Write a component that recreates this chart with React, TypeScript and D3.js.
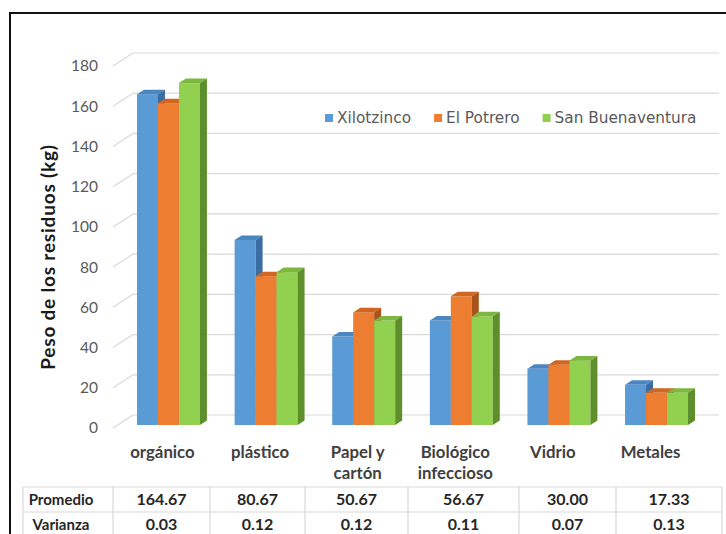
import { useEffect, useRef } from 'react';
import * as d3 from 'd3';

const categories = ['orgánico', 'plástico', 'Papel y cartón', 'Biológico infeccioso', 'Vidrio', 'Metales'];
const categoryLines = [['orgánico'], ['plástico'], ['Papel y', 'cartón'], ['Biológico', 'infeccioso'], ['Vidrio'], ['Metales']];
const seriesNames = ['Xilotzinco', 'El Potrero', 'San Buenaventura'];
const xilotzinco = [164.5, 92, 44, 52, 28, 20];
const elPotrero = [160, 74, 56, 64, 30, 16];
const sanBuenaventura = [170, 76, 52, 54, 32, 16];
const yTicks = [0, 20, 40, 60, 80, 100, 120, 140, 160, 180];
const promedio = ['164.67', '80.67', '50.67', '56.67', '30.00', '17.33'];
const varianza = ['0.03', '0.12', '0.12', '0.11', '0.07', '0.13'];
const rowLabels = ['Promedio', 'Varianza'];

const seriesValues = [xilotzinco, elPotrero, sanBuenaventura];
const faceColors = ['#5b9bd5', '#ed7d31', '#92d050'];
const topColors = ['#4a86c2', '#d0661f', '#7cb83f'];
const sideColors = ['#3a6ea3', '#a9531a', '#5e8f2c'];

const FONT = 'Lato, "Open Sans", sans-serif';

const App = () => {
  const svgRef = useRef<SVGSVGElement>(null);

  useEffect(() => {
    if (!svgRef.current) return;
    const svg = d3.select(svgRef.current);
    svg.selectAll('*').remove();

    // 3D projection: depth 0 = front edge of floor, 1 = back wall
    const depthX = 20;
    const depthY = 13;
    const floorFrontY = 428;
    const wallLeft = 113;
    const wallRight = 699;
    const barDepth0 = 0.23;
    const barDepth1 = 0.58;

    const yScale = d3.scaleLinear().domain([0, 180]).range([0, 362]);
    const py = (v: number, d: number) => floorFrontY - yScale(v) - depthY * d;

    const xScale = d3.scaleBand<string>()
      .domain(categories)
      .range([120, 705])
      .paddingInner(0.355)
      .paddingOuter(0.174);
    const sScale = d3.scaleBand<string>()
      .domain(seriesNames)
      .range([0, xScale.bandwidth()]);

    // frame
    svg.append('rect')
      .attr('x', 10).attr('y', 13)
      .attr('width', 740).attr('height', 560)
      .attr('fill', 'none')
      .attr('stroke', '#111')
      .attr('stroke-width', 2);

    // gridlines on back wall + left wall diagonals
    const grid = svg.append('g');
    yTicks.forEach(t => {
      grid.append('line')
        .attr('x1', wallLeft + depthX).attr('x2', wallRight + depthX)
        .attr('y1', py(t, 1)).attr('y2', py(t, 1))
        .attr('stroke', '#d9d9d9').attr('stroke-width', 1.2);
      grid.append('line')
        .attr('x1', wallLeft).attr('x2', wallLeft + depthX)
        .attr('y1', py(t, 0)).attr('y2', py(t, 1))
        .attr('stroke', '#d9d9d9').attr('stroke-width', 1.2);
    });

    // y tick labels
    svg.append('g')
      .selectAll('text')
      .data(yTicks)
      .join('text')
      .attr('x', 98)
      .attr('y', d => py(d, 0))
      .attr('dy', '0.35em')
      .attr('text-anchor', 'end')
      .style('font-family', FONT)
      .style('font-size', '15.5px')
      .style('fill', '#595959')
      .text(d => d);

    // y axis title
    svg.append('text')
      .attr('transform', 'translate(55,257) rotate(-90)')
      .attr('text-anchor', 'middle')
      .style('font-family', FONT)
      .style('font-size', '19px')
      .style('font-weight', 700)
      .style('letter-spacing', '0.8px')
      .style('fill', '#1a1a1a')
      .text('Peso de los residuos (kg)');

    // bars
    const bx = barDepth0 * depthX;
    const ddx = (barDepth1 - barDepth0) * depthX;
    const ddy = (barDepth1 - barDepth0) * depthY;
    const bars = svg.append('g');
    categories.forEach((c, ci) => {
      seriesNames.forEach((s, si) => {
        const v = seriesValues[si][ci];
        const x0 = (xScale(c) || 0) + (sScale(s) || 0) + bx - 4.6;
        const w = sScale.bandwidth();
        const yTop = py(v, barDepth0);
        const yBot = py(0, barDepth0);
        const g = bars.append('g');
        g.append('rect')
          .attr('x', x0).attr('y', yTop)
          .attr('width', w).attr('height', yBot - yTop)
          .attr('fill', faceColors[si]);
        g.append('path')
          .attr('d', `M${x0},${yTop}L${x0 + ddx},${yTop - ddy}L${x0 + w + ddx},${yTop - ddy}L${x0 + w},${yTop}Z`)
          .attr('fill', topColors[si]);
        g.append('path')
          .attr('d', `M${x0 + w},${yTop}L${x0 + w + ddx},${yTop - ddy}L${x0 + w + ddx},${yBot - ddy}L${x0 + w},${yBot}Z`)
          .attr('fill', sideColors[si]);
      });
    });

    // category labels
    const labels = svg.append('g');
    categories.forEach((c, ci) => {
      const cx = (xScale(c) || 0) + xScale.bandwidth() / 2 - 6;
      categoryLines[ci].forEach((line, li) => {
        labels.append('text')
          .attr('x', cx)
          .attr('y', 458 + li * 21)
          .attr('text-anchor', 'middle')
          .style('font-family', FONT)
          .style('font-size', '16.8px')
          .style('font-weight', 700)
          .style('fill', '#404040')
          .text(line);
      });
    });

    // legend
    const legend = svg.append('g');
    let lx = 325;
    seriesNames.forEach((s, si) => {
      legend.append('rect')
        .attr('x', lx).attr('y', 114)
        .attr('width', 8).attr('height', 8)
        .attr('fill', faceColors[si]);
      const t = legend.append('text')
        .attr('x', lx + 12)
        .attr('y', 118)
        .attr('dy', '0.35em')
        .style('font-family', '"DejaVu Sans", sans-serif')
        .style('font-size', '15.3px')
        .style('fill', '#595959')
        .text(s);
      const node = t.node() as SVGTextElement;
      lx += 12 + node.getComputedTextLength() + 23;
    });

    // data table
    const tableCols = [23, 113, 210, 305, 408, 519, 616, 722];
    const rowTops = [487, 512, 537];
    const table = svg.append('g');
    rowTops.forEach(y => {
      table.append('line')
        .attr('x1', tableCols[0]).attr('x2', tableCols[tableCols.length - 1])
        .attr('y1', y).attr('y2', y)
        .attr('stroke', '#d9d9d9').attr('stroke-width', 1.2);
    });
    tableCols.forEach(x => {
      table.append('line')
        .attr('x1', x).attr('x2', x)
        .attr('y1', rowTops[0]).attr('y2', rowTops[2])
        .attr('stroke', '#d9d9d9').attr('stroke-width', 1.2);
    });
    const rows = [promedio, varianza];
    rows.forEach((row, ri) => {
      const cy = (rowTops[ri] + rowTops[ri + 1]) / 2;
      table.append('text')
        .attr('x', 61)
        .attr('y', cy)
        .attr('dy', '0.35em')
        .attr('text-anchor', 'middle')
        .style('font-family', FONT)
        .style('font-size', '15px')
        .style('font-weight', 700)
        .style('fill', '#262626')
        .text(rowLabels[ri]);
      row.forEach((val, ci) => {
        table.append('text')
          .attr('x', (tableCols[ci + 1] + tableCols[ci + 2]) / 2)
          .attr('y', cy)
          .attr('dy', '0.35em')
          .attr('text-anchor', 'middle')
          .style('font-family', FONT)
          .style('font-size', '16px')
          .style('font-weight', 700)
          .style('fill', '#262626')
          .text(val);
      });
    });
  }, []);

  return (
    <svg
      ref={svgRef}
      width={726}
      height={534}
      style={{ position: 'absolute', left: 0, top: 0, background: '#fff', display: 'block' }}
    />
  );
};

export default App;
